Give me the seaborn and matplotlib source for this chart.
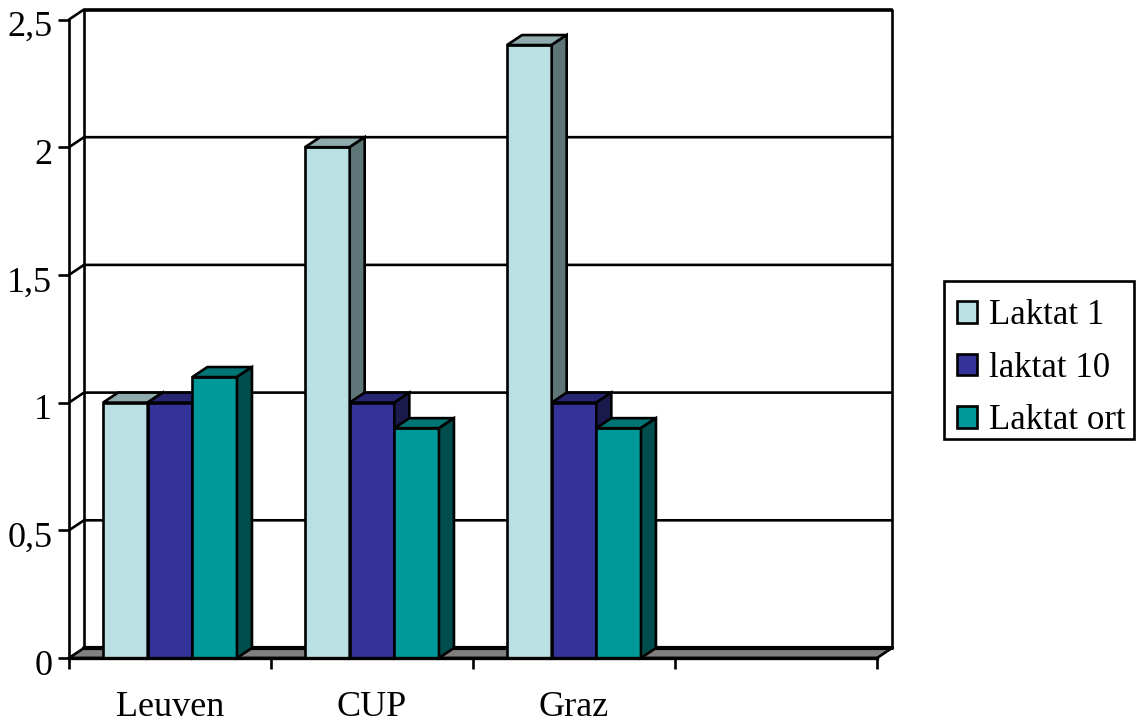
import pandas as pd
import seaborn as sns
import matplotlib.pyplot as plt
from matplotlib.patches import Polygon, Rectangle
from matplotlib.transforms import ScaledTranslation

categories = ["Leuven", "CUP", "Graz", ""]
groups = ["Leuven", "CUP", "Graz"]
laktat_1 = [1.0, 2.0, 2.4]
laktat_10 = [1.0, 1.0, 1.0]
laktat_ort = [1.1, 0.9, 0.9]
series_names = ["Laktat 1", "laktat 10", "Laktat ort"]
y_ticks = [0, 0.5, 1, 1.5, 2, 2.5]
y_labels = ["0", "0,5", "1", "1,5", "2", "2,5"]

colors = ["#BBE0E3", "#333399", "#009999"]
top_colors = ["#8FABAD", "#262673", "#007575"]
side_colors = ["#5F7678", "#1A1A4D", "#004D4D"]

df = pd.DataFrame({
    "place": groups * 3,
    "serie": [series_names[0]] * 3 + [series_names[1]] * 3 + [series_names[2]] * 3,
    "value": laktat_1 + laktat_10 + laktat_ort,
})

sns.set_theme(style="white")
plt.rcParams["font.family"] = ["Liberation Serif"]

W, H = 1138, 724
lw = 1.9
fig = plt.figure(figsize=(W / 100, H / 100), dpi=100)
ax = fig.add_axes([69 / W, 1 - 658 / H, (877 - 69) / W, (658 - 19.5) / H])

sns.barplot(data=df, x="place", y="value", hue="serie", order=categories,
            hue_order=series_names, palette=colors, width=0.663, gap=0,
            saturation=1, edgecolor="black", linewidth=lw, ax=ax)
ax.set_xlim(-0.5, 3.5)
ax.set_ylim(0, 2.5)
ax.set_xlabel("")
ax.set_ylabel("")

# depth of the fake 3d look, in data units
dx = 15 / 202
dy = 10 / 255.4

# back wall
x0, x1 = -0.5, 3.5
ax.plot([x0 + dx, x0 + dx, x1 + dx, x1 + dx], [dy, 2.5 + dy, 2.5 + dy, dy],
        color="black", lw=lw, clip_on=False, zorder=1)
for t in y_ticks[1:]:
    ax.plot([x0, x0 + dx, x1 + dx], [t, t + dy, t + dy], color="black",
            lw=lw, clip_on=False, zorder=1)

# floor
ax.add_patch(Polygon([(x0, 0), (x1, 0), (x1 + dx, dy), (x0 + dx, dy)],
                     facecolor="#808080", edgecolor="black", lw=lw,
                     clip_on=False, zorder=1.5))
ax.plot([x0 + dx, x1 + dx], [dy, dy], color="black", lw=3, clip_on=False,
        zorder=1.6)

# top and side face for every bar, left to right so the next bar covers the side
bars = []
for i, cont in enumerate(ax.containers):
    for b in cont:
        if b.get_height() > 0:
            bars.append((b, i))
bars.sort(key=lambda item: item[0].get_x())
for n, (b, i) in enumerate(bars):
    z = 2 + n * 0.1
    left, w, h = b.get_x(), b.get_width(), b.get_height()
    b.set_zorder(z)
    b.set_clip_on(False)
    ax.add_patch(Polygon([(left, h), (left + w, h), (left + w + dx, h + dy), (left + dx, h + dy)],
                         facecolor=top_colors[i], edgecolor="black", lw=lw,
                         clip_on=False, zorder=z))
    ax.add_patch(Polygon([(left + w, 0), (left + w + dx, dy), (left + w + dx, h + dy), (left + w, h)],
                         facecolor=side_colors[i], edgecolor="black", lw=lw,
                         clip_on=False, zorder=z))

sns.despine(ax=ax, top=True, right=True)
for s in ["left", "bottom"]:
    ax.spines[s].set_color("black")
    ax.spines[s].set_zorder(5)
ax.spines["left"].set_linewidth(lw)
ax.spines["bottom"].set_linewidth(2.4)

ax.set_yticks(y_ticks)
ax.set_yticklabels(y_labels, fontsize=26, color="black")
ax.set_xticks([-0.5, 0.5, 1.5, 2.5, 3.5])
ax.set_xticklabels([])
ax.set_xticks(range(len(categories)), categories, minor=True, fontsize=26, color="black")
ax.tick_params(axis="y", length=8, width=lw, color="black", left=True, pad=4)
ax.tick_params(axis="x", which="major", length=8, width=lw, color="black", bottom=True)
ax.tick_params(axis="x", which="minor", length=0, pad=24)

# the y labels sit a little under their ticks in the original
shift = ScaledTranslation(0, -3 / 72, fig.dpi_scale_trans)
for lab in ax.get_yticklabels():
    lab.set_transform(lab.get_transform() + shift)

handles, labels = ax.get_legend_handles_labels()
leg = ax.legend(handles, labels, loc="upper left",
                bbox_to_anchor=(944 / W, 1 - 287 / H), bbox_transform=fig.transFigure,
                fontsize=25, labelcolor="black", frameon=False,
                handlelength=0.58, handleheight=0.58,
                handletextpad=0.37, labelspacing=0.555, borderpad=0.36, borderaxespad=0)
leg.set_zorder(10)
# legend box is narrower on the right than the auto frame
fig.add_artist(Rectangle((944 / W, 1 - 439 / H), 190 / W, 158 / H, fill=False,
                         edgecolor="black", lw=lw, transform=fig.transFigure))

fig.savefig("out.png", dpi=100, facecolor="white")
